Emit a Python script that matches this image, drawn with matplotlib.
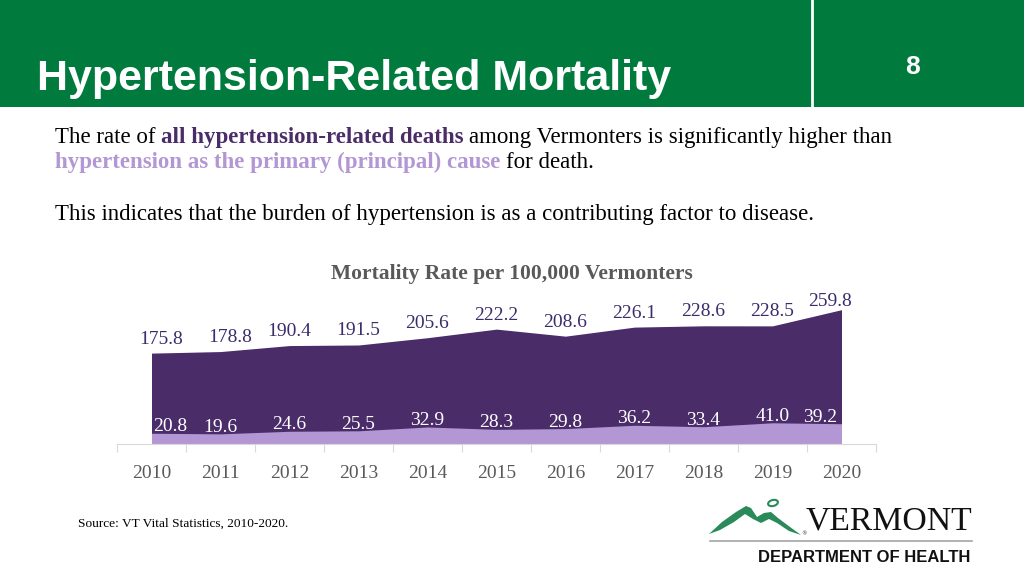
import numpy as np
import matplotlib
matplotlib.use("Agg")
import matplotlib.pyplot as plt
from matplotlib.patches import Rectangle, Polygon, Ellipse

years = ['2010', '2011', '2012', '2013', '2014', '2015', '2016', '2017', '2018', '2019', '2020']
all_related = [175.8, 178.8, 190.4, 191.5, 205.6, 222.2, 208.6, 226.1, 228.6, 228.5, 259.8]
primary = [20.8, 19.6, 24.6, 25.5, 32.9, 28.3, 29.8, 36.2, 33.4, 41.0, 39.2]

GREEN = '#007A3D'
DARK = '#4A2C69'
LIGHT = '#B397D4'
LABEL = '#3B2C6B'
GRAY = '#595959'
SERIF = ['Liberation Serif', 'DejaVu Serif']
NARROW = ['Liberation Sans Narrow', 'Liberation Sans', 'DejaVu Sans']

fig = plt.figure(figsize=(10.24, 5.76), dpi=100)

# background layer in pixel coords
bg = fig.add_axes([0, 0, 1, 1])
bg.set_xlim(0, 1024)
bg.set_ylim(576, 0)
bg.axis('off')

bg.add_patch(Rectangle((0, 0), 1024, 107, color=GREEN, lw=0))
bg.plot([812, 812], [0, 107], color='white', lw=2)
bg.text(37, 90, 'Hypertension-Related Mortality', family=NARROW, fontweight='bold',
        fontsize=31, color='white', va='baseline')
bg.text(913, 74, '8', family=NARROW, fontweight='bold', fontsize=19, color='white',
        ha='center', va='baseline')


def rich_line(x, y, parts, size=16.5):
    prev = None
    for txt, color, weight in parts:
        if prev is None:
            prev = bg.text(x, y, txt, family=SERIF, fontsize=size, color=color,
                           fontweight=weight, va='baseline')
        else:
            prev = bg.annotate(txt, xy=(1, 0), xycoords=prev, xytext=(size * 0.25, 0),
                               textcoords='offset points', family=SERIF, fontsize=size,
                               color=color, fontweight=weight, va='bottom', ha='left')


rich_line(55, 143, [('The rate of', 'black', 'normal'),
                    ('all hypertension-related deaths', DARK, 'bold'),
                    ('among Vermonters is significantly higher than', 'black', 'normal')])
rich_line(55, 168, [('hypertension as the primary (principal) cause', LIGHT, 'bold'),
                    ('for death.', 'black', 'normal')])
rich_line(55, 220, [('This indicates that the burden of hypertension is as a contributing factor to disease.',
                     'black', 'normal')])

bg.text(512, 279, 'Mortality Rate per 100,000 Vermonters', family=SERIF, fontweight='bold',
        fontsize=15.5, color=GRAY, ha='center', va='baseline')

bg.text(78, 527, 'Source: VT Vital Statistics, 2010-2020.', family=SERIF, fontsize=9.6,
        color='black', va='baseline')

# logo
mountain = [(709, 534), (722, 522), (736, 512), (746, 506), (751, 508), (757, 517), (764, 513),
            (771, 512), (778, 518), (790, 527), (801, 535), (789, 531), (777, 523), (769, 519),
            (761, 523), (753, 519), (745, 514), (734, 522), (720, 530)]
bg.add_patch(Polygon(mountain, closed=True, color='#2A8A5A', lw=0))
bg.add_patch(Ellipse((773, 503), 10, 6, angle=-15, fill=False, ec='#2A8A5A', lw=1.5))
bg.text(801, 535, '®', fontsize=4, color='#333333', va='baseline')
bg.text(806, 530, 'VERMONT', family=SERIF, fontsize=24.3, color='#111111', va='baseline')
bg.plot([710, 972], [541, 541], color='#A6A6A6', lw=1.2)
bg.text(758, 562, 'DEPARTMENT OF HEALTH', family=['Liberation Sans', 'DejaVu Sans'],
        fontweight='bold', fontsize=12, color='#111111', va='baseline')

# chart
ax = fig.add_axes([117 / 1024, (576 - 444) / 576, 759 / 1024, 154 / 576])
x = np.arange(len(years))
ax.fill_between(x, 0, all_related, color=DARK, lw=0)
ax.fill_between(x, 0, primary, color=LIGHT, lw=0)
ax.set_xlim(-0.5, len(years) - 0.5)
ax.set_ylim(0, 154 / 0.517)
ax.patch.set_alpha(0)
for s in ['top', 'right', 'left']:
    ax.spines[s].set_visible(False)
ax.spines['bottom'].set_color('#D9D9D9')
ax.set_yticks([])
ax.set_xticks(np.arange(-0.5, len(years), 1))
ax.set_xticklabels([])
ax.tick_params(axis='x', which='major', length=6, color='#D9D9D9')
ax.set_xticks(x, minor=True)
ax.set_xticklabels(years, minor=True, family=SERIF, fontsize=14, color=GRAY)
ax.tick_params(axis='x', which='minor', length=0, pad=15)

last = len(years) - 1
for i, v in enumerate(all_related):
    dx = 7 if i < 2 else (-8 if i == last else 0)
    dy = 0 if i == last else 4
    ax.annotate(f'{v:.1f}', (i, v), xytext=(dx, dy), textcoords='offset points', ha='center',
                va='bottom', family=SERIF, fontsize=14, color=LABEL)
for i, v in enumerate(primary):
    ha = 'left' if i == 0 else ('right' if i == last else 'center')
    dx = 1 if i == 0 else (-3 if i == last else 0)
    ax.annotate(f'{v:.1f}', (i, v), xytext=(dx, -1.5), textcoords='offset points', ha=ha,
                va='bottom', family=SERIF, fontsize=14, color='white')

fig.savefig('out.png', dpi=100)
